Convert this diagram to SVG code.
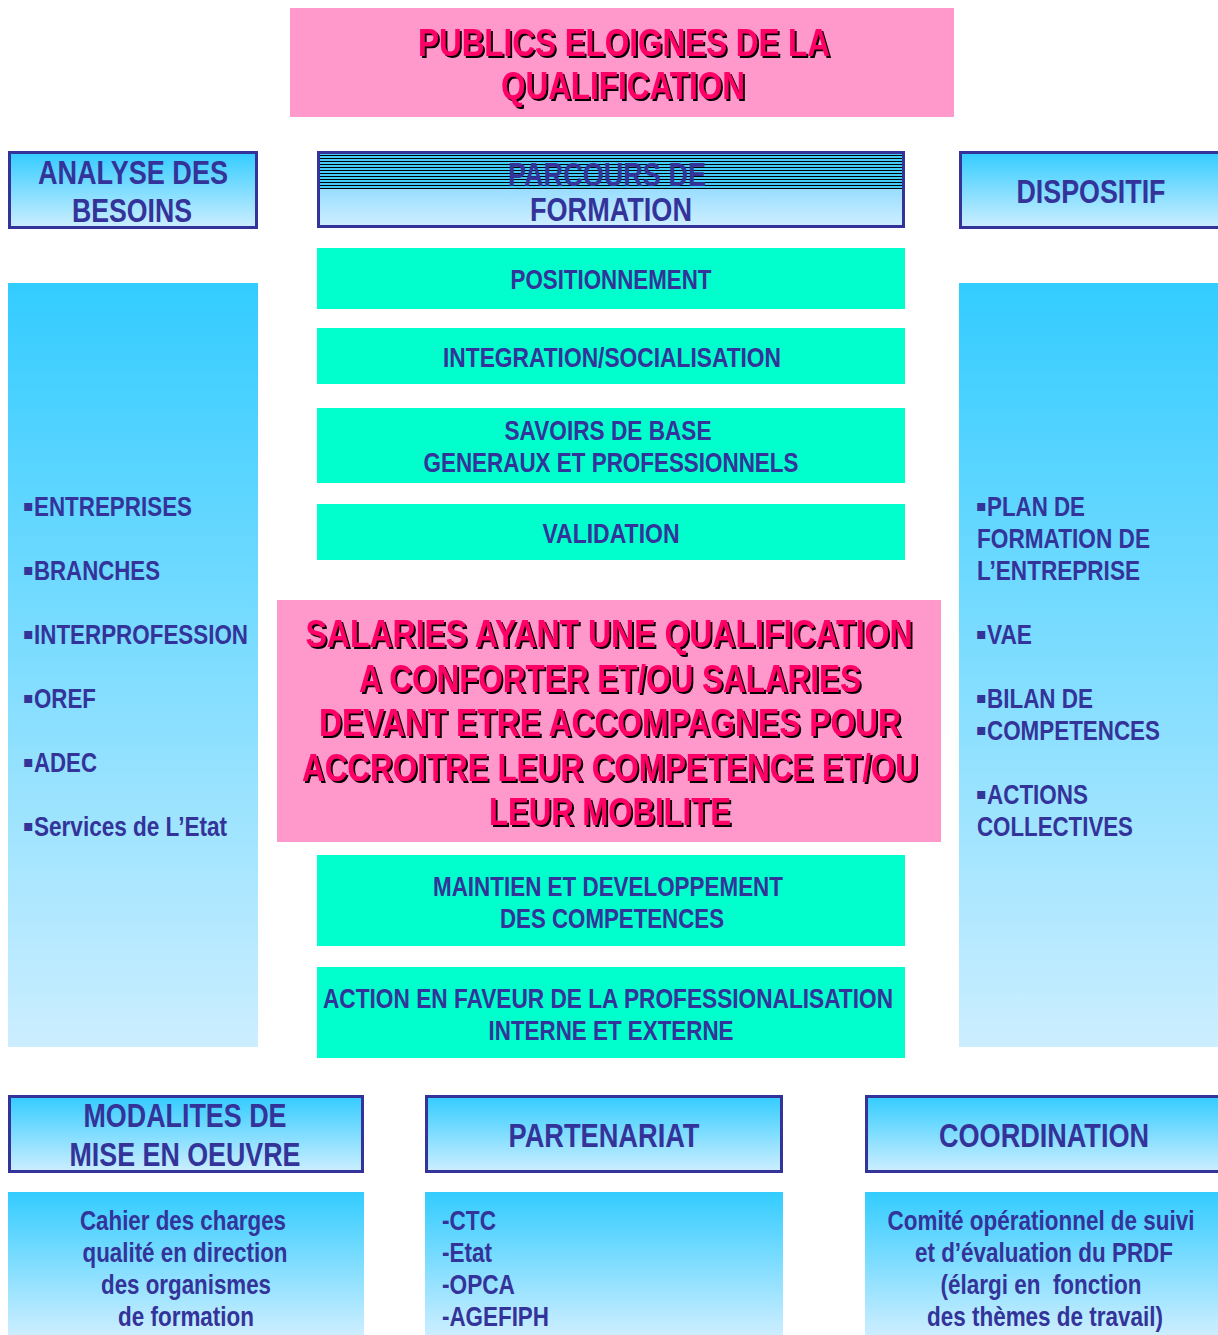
<svg xmlns="http://www.w3.org/2000/svg" width="1218" height="1335" viewBox="0 0 1218 1335">
<defs>
<linearGradient id="blue" x1="0" y1="0" x2="0" y2="1">
<stop offset="0" stop-color="#33CCFF"/>
<stop offset="1" stop-color="#CCEEFF"/>
</linearGradient>
<linearGradient id="blueLow" x1="0" y1="0" x2="0" y2="1">
<stop offset="0" stop-color="#99DDFF"/>
<stop offset="1" stop-color="#CCEEFF"/>
</linearGradient>
<pattern id="stripes" x="0" y="153" width="10" height="3" patternUnits="userSpaceOnUse">
<rect x="0" y="0" width="10" height="2" fill="#44CCF8"/>
<rect x="0" y="2" width="10" height="1" fill="#000000"/>
</pattern>
<filter id="shadow" x="-5%" y="-20%" width="110%" height="140%">
<feDropShadow dx="2.5" dy="2" stdDeviation="0.3" flood-color="#000000" flood-opacity="1"/>
</filter>
</defs>
<style>
text{font-family:"Liberation Sans","Arial",sans-serif;font-weight:bold;}
.hb{fill:url(#blue);stroke:#333399;stroke-width:3;}
.col{fill:url(#blue);}
.teal{fill:#00FFCC;}
.pink{fill:#FF99CC;}
.big{font-size:39px;fill:#FF0066;text-anchor:middle;filter:url(#shadow);}
.hd{font-size:33px;fill:#333399;text-anchor:middle;}
.tx{font-size:27px;fill:#333399;text-anchor:middle;}
.ls{font-size:27px;fill:#333399;}
.b{font-family:"DejaVu Sans",sans-serif;font-size:16px;fill:#333399;}
</style>
<rect width="1218" height="1335" fill="#FFFFFF"/>

<g id="title">
<rect class="pink" x="290" y="8" width="664" height="109"/>
<g transform="scale(0.8,1)">
<text class="big" x="780" y="56" textLength="515" lengthAdjust="spacingAndGlyphs">PUBLICS ELOIGNES DE LA</text>
<text class="big" x="778.75" y="99" textLength="305" lengthAdjust="spacingAndGlyphs">QUALIFICATION</text>
</g>
</g>

<g id="analyse-header">
<rect class="hb" x="9.5" y="152.5" width="247" height="75"/>
<g transform="scale(0.8,1)">
<text class="hd" x="166.25" y="184" textLength="237.5" lengthAdjust="spacingAndGlyphs">ANALYSE DES</text>
<text class="hd" x="165" y="222" textLength="150" lengthAdjust="spacingAndGlyphs">BESOINS</text>
</g>
</g>

<g id="parcours-header">
<rect x="317" y="151" width="588" height="77" fill="#333399"/>
<rect x="320" y="154" width="582" height="35" fill="url(#stripes)"/>
<rect x="320" y="189" width="582" height="36" fill="url(#blueLow)"/>
<g transform="scale(0.8,1)">
<text class="hd" x="758.75" y="186" textLength="247.5" lengthAdjust="spacingAndGlyphs">PARCOURS DE</text>
<text class="hd" x="763.75" y="221" textLength="202.5" lengthAdjust="spacingAndGlyphs">FORMATION</text>
</g>
</g>

<g id="dispositif-header">
<rect class="hb" x="960.5" y="152.5" width="262" height="75"/>
<g transform="scale(0.8,1)">
<text class="hd" x="1363.75" y="203" textLength="186.25" lengthAdjust="spacingAndGlyphs">DISPOSITIF</text>
</g>
</g>

<g id="analyse-list">
<rect class="col" x="8" y="283" width="250" height="764"/>
<text class="b" x="23" y="511">▪</text>
<text class="b" x="23" y="575">▪</text>
<text class="b" x="23" y="639">▪</text>
<text class="b" x="23" y="703">▪</text>
<text class="b" x="23" y="767">▪</text>
<text class="b" x="23" y="831">▪</text>
<g transform="scale(0.8,1)">
<text class="ls" x="42.5" y="516" textLength="197.5" lengthAdjust="spacingAndGlyphs">ENTREPRISES</text>
<text class="ls" x="42.5" y="580" textLength="157.5" lengthAdjust="spacingAndGlyphs">BRANCHES</text>
<text class="ls" x="42.5" y="644" textLength="267.5" lengthAdjust="spacingAndGlyphs">INTERPROFESSION</text>
<text class="ls" x="42.5" y="708" textLength="77.5" lengthAdjust="spacingAndGlyphs">OREF</text>
<text class="ls" x="42.5" y="772" textLength="78.75" lengthAdjust="spacingAndGlyphs">ADEC</text>
<text class="ls" x="42.5" y="836" textLength="241.25" lengthAdjust="spacingAndGlyphs">Services de L’Etat</text>
</g>
</g>

<g id="dispositif-list">
<rect class="col" x="959" y="283" width="259" height="764"/>
<text class="b" x="976" y="511">▪</text>
<text class="b" x="976" y="639">▪</text>
<text class="b" x="976" y="703">▪</text>
<text class="b" x="976" y="735">▪</text>
<text class="b" x="976" y="799">▪</text>
<g transform="scale(0.8,1)">
<text class="ls" x="1233.75" y="516" textLength="122.5" lengthAdjust="spacingAndGlyphs">PLAN DE</text>
<text class="ls" x="1221.25" y="548" textLength="216.25" lengthAdjust="spacingAndGlyphs">FORMATION DE</text>
<text class="ls" x="1221.25" y="580" textLength="203.75" lengthAdjust="spacingAndGlyphs">L’ENTREPRISE</text>
<text class="ls" x="1233.75" y="644" textLength="56.25" lengthAdjust="spacingAndGlyphs">VAE</text>
<text class="ls" x="1233.75" y="708" textLength="132.5" lengthAdjust="spacingAndGlyphs">BILAN DE</text>
<text class="ls" x="1233.75" y="740" textLength="216.25" lengthAdjust="spacingAndGlyphs">COMPETENCES</text>
<text class="ls" x="1233.75" y="804" textLength="126.25" lengthAdjust="spacingAndGlyphs">ACTIONS</text>
<text class="ls" x="1221.25" y="836" textLength="195" lengthAdjust="spacingAndGlyphs">COLLECTIVES</text>
</g>
</g>

<g id="positionnement">
<rect class="teal" x="317" y="248" width="588" height="61"/>
<g transform="scale(0.8,1)">
<text class="tx" x="763.75" y="289" textLength="251.25" lengthAdjust="spacingAndGlyphs">POSITIONNEMENT</text>
</g>
</g>

<g id="integration">
<rect class="teal" x="317" y="328" width="588" height="56"/>
<g transform="scale(0.8,1)">
<text class="tx" x="765" y="367" textLength="422.5" lengthAdjust="spacingAndGlyphs">INTEGRATION/SOCIALISATION</text>
</g>
</g>

<g id="savoirs">
<rect class="teal" x="317" y="408" width="588" height="75"/>
<g transform="scale(0.8,1)">
<text class="tx" x="760" y="440" textLength="258.75" lengthAdjust="spacingAndGlyphs">SAVOIRS DE BASE</text>
<text class="tx" x="763.75" y="472" textLength="468.75" lengthAdjust="spacingAndGlyphs">GENERAUX ET PROFESSIONNELS</text>
</g>
</g>

<g id="validation">
<rect class="teal" x="317" y="504" width="588" height="56"/>
<g transform="scale(0.8,1)">
<text class="tx" x="763.75" y="543" textLength="171.25" lengthAdjust="spacingAndGlyphs">VALIDATION</text>
</g>
</g>

<g id="salaries">
<rect class="pink" x="277" y="600" width="664" height="242"/>
<g transform="scale(0.8,1)">
<text class="big" x="761.25" y="647" textLength="758.75" lengthAdjust="spacingAndGlyphs">SALARIES AYANT UNE QUALIFICATION</text>
<text class="big" x="762.5" y="692" textLength="627.5" lengthAdjust="spacingAndGlyphs">A CONFORTER ET/OU SALARIES</text>
<text class="big" x="762.5" y="736" textLength="727.5" lengthAdjust="spacingAndGlyphs">DEVANT ETRE ACCOMPAGNES POUR</text>
<text class="big" x="762.5" y="781" textLength="770" lengthAdjust="spacingAndGlyphs">ACCROITRE LEUR COMPETENCE ET/OU</text>
<text class="big" x="762.5" y="825" textLength="302.5" lengthAdjust="spacingAndGlyphs">LEUR MOBILITE</text>
</g>
</g>

<g id="maintien">
<rect class="teal" x="317" y="855" width="588" height="91"/>
<g transform="scale(0.8,1)">
<text class="tx" x="760" y="896" textLength="437.5" lengthAdjust="spacingAndGlyphs">MAINTIEN ET DEVELOPPEMENT</text>
<text class="tx" x="765" y="928" textLength="280" lengthAdjust="spacingAndGlyphs">DES COMPETENCES</text>
</g>
</g>

<g id="action">
<rect class="teal" x="317" y="967" width="588" height="91"/>
<g transform="scale(0.8,1)">
<text class="tx" x="760" y="1008" textLength="712.5" lengthAdjust="spacingAndGlyphs">ACTION EN FAVEUR DE LA PROFESSIONALISATION</text>
<text class="tx" x="763.75" y="1040" textLength="306.25" lengthAdjust="spacingAndGlyphs">INTERNE ET EXTERNE</text>
</g>
</g>

<g id="modalites">
<rect class="hb" x="9.5" y="1096.5" width="353" height="75"/>
<rect class="col" x="8" y="1192" width="356" height="143"/>
<g transform="scale(0.8,1)">
<text class="hd" x="231.25" y="1127" textLength="253.75" lengthAdjust="spacingAndGlyphs">MODALITES DE</text>
<text class="hd" x="231.25" y="1166" textLength="288.75" lengthAdjust="spacingAndGlyphs">MISE EN OEUVRE</text>
<text class="tx" x="228.75" y="1230" textLength="257.5" lengthAdjust="spacingAndGlyphs">Cahier des charges</text>
<text class="tx" x="231.25" y="1262" textLength="256.25" lengthAdjust="spacingAndGlyphs">qualité en direction</text>
<text class="tx" x="232.5" y="1294" textLength="212.5" lengthAdjust="spacingAndGlyphs">des organismes</text>
<text class="tx" x="232.5" y="1326" textLength="170" lengthAdjust="spacingAndGlyphs">de formation</text>
</g>
</g>

<g id="partenariat">
<rect class="hb" x="426.5" y="1096.5" width="355" height="75"/>
<rect class="col" x="425" y="1192" width="358" height="143"/>
<g transform="scale(0.8,1)">
<text class="hd" x="755" y="1147" textLength="238.75" lengthAdjust="spacingAndGlyphs">PARTENARIAT</text>
<text class="ls" x="552.5" y="1230" textLength="67.5" lengthAdjust="spacingAndGlyphs">-CTC</text>
<text class="ls" x="552.5" y="1262" textLength="62.5" lengthAdjust="spacingAndGlyphs">-Etat</text>
<text class="ls" x="552.5" y="1294" textLength="91.25" lengthAdjust="spacingAndGlyphs">-OPCA</text>
<text class="ls" x="552.5" y="1326" textLength="133.75" lengthAdjust="spacingAndGlyphs">-AGEFIPH</text>
</g>
</g>

<g id="coordination">
<rect class="hb" x="866.5" y="1096.5" width="356" height="75"/>
<rect class="col" x="865" y="1192" width="353" height="143"/>
<g transform="scale(0.8,1)">
<text class="hd" x="1305" y="1147" textLength="262.5" lengthAdjust="spacingAndGlyphs">COORDINATION</text>
<text class="tx" x="1301.25" y="1230" textLength="383.75" lengthAdjust="spacingAndGlyphs">Comité opérationnel de suivi</text>
<text class="tx" x="1305" y="1262" textLength="322.5" lengthAdjust="spacingAndGlyphs">et d’évaluation du PRDF</text>
<text class="tx" x="1301.25" y="1294" textLength="251.25" lengthAdjust="spacingAndGlyphs" xml:space="preserve">(élargi en  fonction</text>
<text class="tx" x="1306.25" y="1326" textLength="295" lengthAdjust="spacingAndGlyphs">des thèmes de travail)</text>
</g>
</g>

<g id="connectors"></g>
</svg>
